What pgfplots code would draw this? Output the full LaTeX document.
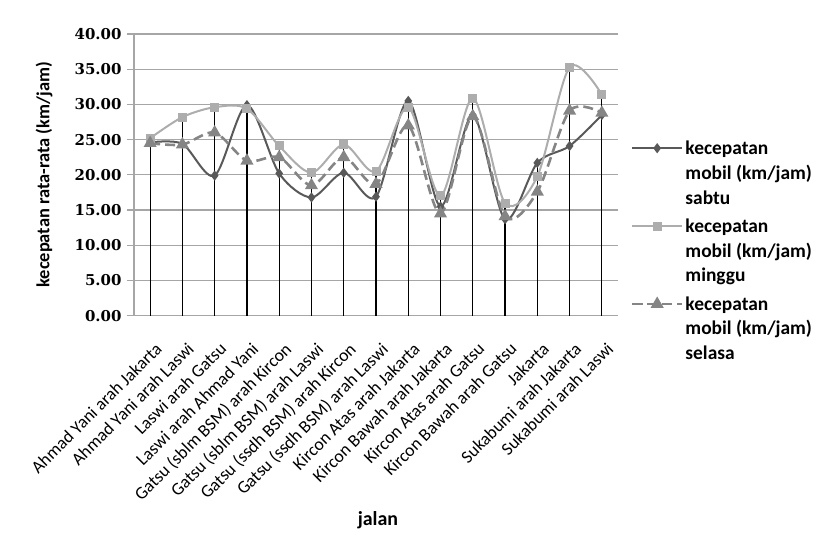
\documentclass[border=0pt]{standalone}
\usepackage{pgfplots}
\pgfplotsset{compat=1.18}
\usepackage{pgfplotstable}
\usepackage{fontspec}
\setmainfont{Carlito}
\newfontfamily\tickfont{DejaVu Serif}
\definecolor{csabtu}{HTML}{595959}
\definecolor{cminggu}{HTML}{ADADAD}
\definecolor{cselasa}{HTML}{858585}
\definecolor{gridc}{HTML}{A6A6A6}

\pgfplotstableread{
x sabtu minggu selasa maks
0  24.6 25.2 24.5 25.2
1  24.4 28.2 24.3 28.2
2  19.9 29.6 26.0 29.6
3  29.9 29.4 22.0 29.9
4  20.2 24.1 22.5 24.1
5  16.8 20.3 18.5 20.3
6  20.3 24.3 22.5 24.3
7  16.9 20.5 18.7 20.5
8  30.5 29.6 27.0 30.5
9  15.5 17.0 14.5 17.0
10 28.5 30.9 28.3 30.9
11 13.7 16.0 14.1 16.0
12 21.7 19.8 17.6 21.7
13 24.1 35.3 29.1 35.3
14 28.5 31.4 28.8 31.4
}\data

\begin{document}
\begin{tikzpicture}
\path[use as bounding box] (-134bp,-225.3bp) rectangle (700bp,315.7bp);
\begin{axis}[
  at={(0,0)}, anchor=south west,
  scale only axis, width=484bp, height=281.7bp,
  xmin=-0.5, xmax=14.5, ymin=0, ymax=40,
  ytick={0,5,...,40},
  xtick={0,...,14},
  xticklabels={Ahmad Yani arah Jakarta, Ahmad Yani arah Laswi, Laswi arah Gatsu, Laswi arah Ahmad Yani, {Gatsu (sblm BSM) arah Kircon}, {Gatsu (sblm BSM) arah Laswi}, {Gatsu (ssdh BSM) arah Kircon}, {Gatsu (ssdh BSM) arah Laswi}, Kircon Atas arah Jakarta, Kircon Bawah arah Jakarta, Kircon Atas arah Gatsu, Kircon Bawah arah Gatsu, Jakarta, Sukabumi arah Jakarta, Sukabumi arah Laswi},
  ymajorgrids, grid style={gridc, line width=1.2bp},
  axis x line*=bottom, axis y line*=left,
  axis line style={gridc, line width=1.2bp},
  tick align=outside, major tick length=7bp,
  y tick style={gridc, line width=1.2bp},
  x tick style={draw=none},
  /pgf/number format/.cd, fixed, fixed zerofill, precision=2, assume math mode=true,
  /pgfplots/.cd,
  y tick label style={font=\tickfont\bfseries\fontsize{15}{18}\selectfont, xshift=-2bp},
  x tick label style={xshift=4bp, yshift=-17bp, rotate=45, anchor=north east, font=\fontsize{17.8}{21}\selectfont, inner sep=1bp},
  ylabel={kecepatan rata-rata (km/jam)},
  ylabel style={font=\bfseries\fontsize{18.5}{21}\selectfont, at={(axis description cs:-0.186,0.5)}, anchor=center},
  xlabel={jalan},
  xlabel style={font=\bfseries\fontsize{20}{23}\selectfont, at={(axis description cs:0.504,-0.725)}, anchor=center},
  legend style={draw=none, fill=none, at={(axis description cs:1.02,0.65)}, anchor=north west,
    font=\bfseries\fontsize{19.5}{25}\selectfont, cells={anchor=base west}, row sep=55bp,
    legend image code/.code={\draw[mark repeat=2,mark phase=2,#1] plot coordinates {(0bp,6bp)(25bp,6bp)(50bp,6bp)};}},
  clip=false,
]
\addplot[black, line width=1.2bp, ycomb, forget plot] table[x=x,y=maks]{\data};
\addplot[csabtu, line width=2bp, smooth, tension=0.5, mark=diamond*, mark size=3.5bp] table[x=x,y=sabtu]{\data};
\addlegendentry{\begin{tabular}[t]{@{}l@{}}kecepatan\\mobil (km/jam)\\sabtu\end{tabular}}
\addplot[cminggu, line width=2bp, smooth, tension=0.5, mark=square*, mark size=3.5bp] table[x=x,y=minggu]{\data};
\addlegendentry{\begin{tabular}[t]{@{}l@{}}kecepatan\\mobil (km/jam)\\minggu\end{tabular}}
\addplot[cselasa, line width=2.6bp, dash pattern=on 10bp off 5bp, smooth, tension=0.5, mark=triangle*, mark size=5bp, mark options={solid}] table[x=x,y=selasa]{\data};
\addlegendentry{\begin{tabular}[t]{@{}l@{}}kecepatan\\mobil (km/jam)\\selasa\end{tabular}}
\end{axis}
\end{tikzpicture}
\end{document}
